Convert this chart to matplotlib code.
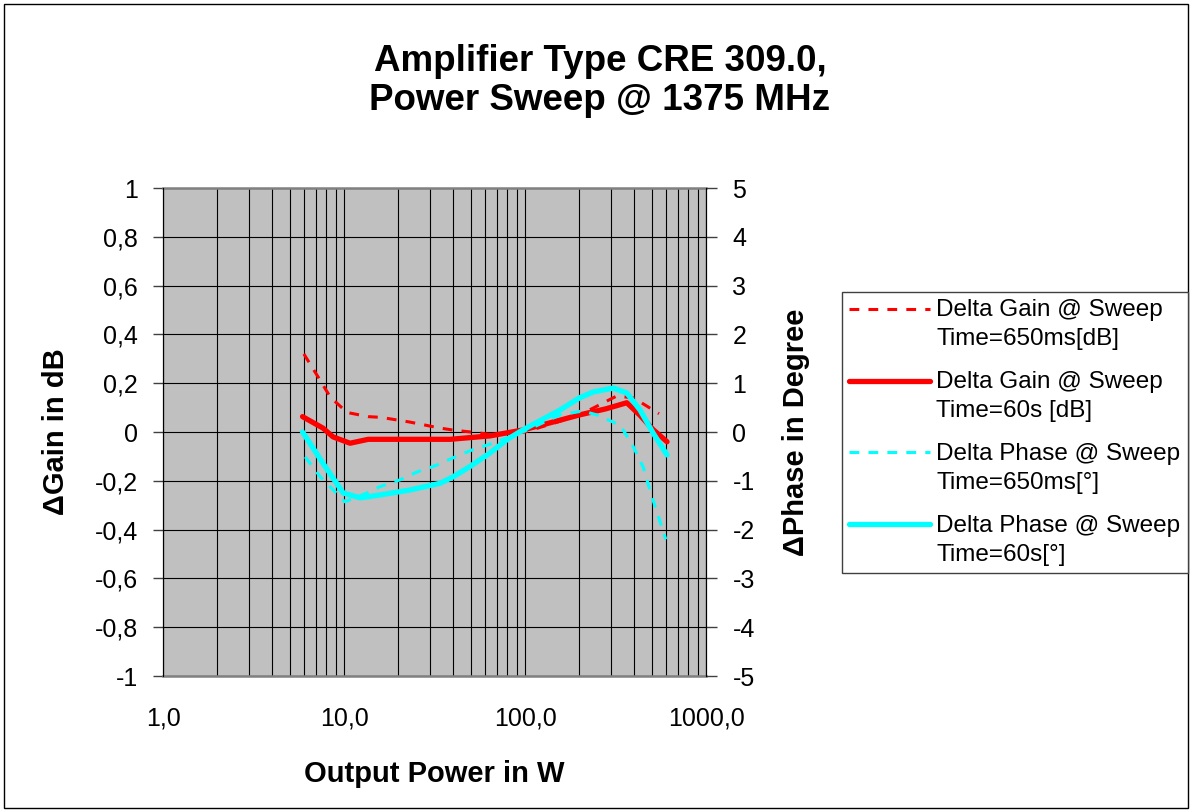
import matplotlib
matplotlib.use('Agg')
import matplotlib.pyplot as plt
from matplotlib.ticker import LogLocator, NullFormatter
from matplotlib.patches import Rectangle
from matplotlib.lines import Line2D
from matplotlib.legend_handler import HandlerLine2D

plt.rcParams['font.family'] = ['Liberation Sans', 'DejaVu Sans']

# ---- data ----
title = "Amplifier Type CRE 309.0,\nPower Sweep @ 1375 MHz"
x_label = "Output Power in W"
y_label_left = "ΔGain in dB"
y_label_right = "ΔPhase in Degree"

x_ticks = [1, 10, 100, 1000]
x_tick_labels = ["1,0", "10,0", "100,0", "1000,0"]
gain_ticks = [-1, -0.8, -0.6, -0.4, -0.2, 0, 0.2, 0.4, 0.6, 0.8, 1]
gain_tick_labels = ["-1", "-0,8", "-0,6", "-0,4", "-0,2", "0", "0,2", "0,4", "0,6", "0,8", "1"]
phase_ticks = [-5, -4, -3, -2, -1, 0, 1, 2, 3, 4, 5]
phase_tick_labels = ["-5", "-4", "-3", "-2", "-1", "0", "1", "2", "3", "4", "5"]

label_gain_650 = "Delta Gain @ Sweep\nTime=650ms[dB]"
label_gain_60 = "Delta Gain @ Sweep\nTime=60s [dB]"
label_phase_650 = "Delta Phase @ Sweep\nTime=650ms[°]"
label_phase_60 = "Delta Phase @ Sweep\nTime=60s[°]"

power_gain_650 = [6.0, 7.2, 8.4, 10.4, 13.6, 16, 23, 34, 40, 56, 64, 100, 150, 200, 238, 322, 400, 550]
gain_650 = [0.32, 0.225, 0.143, 0.08, 0.063, 0.06, 0.041, 0.016, 0.008, -0.004, -0.01, 0.0, 0.04, 0.07, 0.098, 0.148, 0.139, 0.075]

power_gain_60 = [5.9, 7.65, 8.7, 10.8, 13.6, 20, 38.6, 64, 97, 150, 200, 280, 365, 430, 510, 609]
gain_60 = [0.063, 0.016, -0.02, -0.046, -0.03, -0.03, -0.03, -0.016, 0.008, 0.045, 0.07, 0.095, 0.12, 0.07, 0.01, -0.04]

power_phase_650 = [6.1, 7.4, 9.3, 10.1, 13.4, 15.8, 20.4, 25.3, 32.5, 40, 50.8, 64, 100, 156, 208, 250, 335, 388, 450, 490, 535, 600]
phase_650 = [-0.51, -0.92, -1.29, -1.43, -1.25, -1.12, -0.98, -0.82, -0.68, -0.53, -0.37, -0.25, 0.02, 0.35, 0.43, 0.35, 0.14, -0.23, -0.72, -1.19, -1.64, -2.2]

power_phase_60 = [5.9, 7.65, 9.9, 12.3, 15.8, 23, 34, 40, 50, 64, 80, 97, 156, 200, 238, 307, 365, 432, 510, 609]
phase_60 = [0.0, -0.64, -1.25, -1.35, -1.29, -1.19, -1.05, -0.92, -0.7, -0.43, -0.15, 0.04, 0.45, 0.7, 0.82, 0.9, 0.8, 0.45, -0.02, -0.47]

RED = '#FF0000'
CYAN = '#00FFFF'

W, H = 1192, 811
fig = plt.figure(figsize=(W / 100, H / 100), dpi=100)
fig.patch.set_facecolor('white')

L, R, T, B = 163, 706, 188, 676
ax = fig.add_axes([L / W, 1 - B / H, (R - L) / W, (B - T) / H])
ax.set_facecolor('#C0C0C0')
ax.set_xscale('log')
ax.set_xlim(1, 1000)
ax.set_ylim(-1, 1)
ax.set_xticks(x_ticks)
ax.set_xticklabels(x_tick_labels)
ax.xaxis.set_minor_locator(LogLocator(base=10, subs=range(2, 10)))
ax.xaxis.set_minor_formatter(NullFormatter())
ax.set_yticks(gain_ticks)
ax.set_yticklabels(gain_tick_labels)
ax.tick_params(axis='x', which='both', length=0, pad=22, labelsize=18)
ax.tick_params(axis='y', which='major', length=7, width=1, direction='out', pad=11, labelsize=18, color='#404040')
ax.grid(which='both', axis='x', color='black', lw=0.8)
ax.grid(which='major', axis='y', color='black', lw=0.8)
ax.set_axisbelow(True)
for s in ['top', 'bottom']:
    ax.spines[s].set_color('#808080')
    ax.spines[s].set_linewidth(1.8)
ax.spines['left'].set_color('black')
ax.spines['right'].set_color('black')

ax.plot(power_gain_650, gain_650, color=RED, lw=2.2, dashes=(3.2, 3.0), zorder=3)
ax.plot(power_gain_60, gain_60, color=RED, lw=3.8, solid_joinstyle='round', solid_capstyle='round', zorder=4)

ax.set_xlabel(x_label, fontsize=21, fontweight='bold')
ax.xaxis.set_label_coords(0.5, (B - 760) / (B - T))
ax.set_ylabel(y_label_left, fontsize=21, fontweight='bold')
ax.yaxis.set_label_coords((70 - L) / (R - L), 0.5)

ax2 = ax.twinx()
ax2.set_ylim(-5, 5)
ax2.set_yticks(phase_ticks)
ax2.set_yticklabels(phase_tick_labels)
ax2.tick_params(axis='y', length=8, width=1, direction='out', pad=11, labelsize=18, color='#404040')
for s in ['top', 'bottom']:
    ax2.spines[s].set_visible(False)
ax2.spines['right'].set_color('black')
ax2.plot(power_phase_650, phase_650, color=CYAN, lw=2.2, dashes=(3.2, 3.0), zorder=3)
ax2.plot(power_phase_60, phase_60, color=CYAN, lw=3.8, solid_joinstyle='round', solid_capstyle='round', zorder=4)
ax2.set_ylabel(y_label_right, fontsize=21, fontweight='bold', rotation=90)
ax2.yaxis.set_label_coords((782 - L) / (R - L), 0.5)

fig.text(600 / W, 1 - 81 / H, title, ha='center', va='center', fontsize=26.5,
         fontweight='bold', linespacing=1.15)


class TopLineHandler(HandlerLine2D):
    def __init__(self, shift=11.5, **kw):
        super().__init__(**kw)
        self.shift = shift

    def create_artists(self, legend, orig_handle, xdescent, ydescent, width, height,
                       fontsize, trans):
        arts = super().create_artists(legend, orig_handle, xdescent, ydescent, width,
                                      height, fontsize, trans)
        for a in arts:
            if isinstance(a, Line2D):
                a.set_ydata([v + self.shift for v in a.get_ydata()])
        return arts


handles = [
    Line2D([], [], color=RED, lw=2.2, dashes=(3.2, 3.0)),
    Line2D([], [], color=RED, lw=3.8, solid_capstyle='round'),
    Line2D([], [], color=CYAN, lw=2.2, dashes=(3.2, 3.0)),
    Line2D([], [], color=CYAN, lw=3.8, solid_capstyle='round'),
]
labels = [label_gain_650, label_gain_60, label_phase_650, label_phase_60]
hmap = {h: TopLineHandler() for h in handles}
leg = fig.legend(handles, labels, loc='upper left', bbox_to_anchor=(842 / W, 1 - 292 / H),
                 frameon=True, fancybox=False, edgecolor='#404040', facecolor='white',
                 fontsize=17.5, handlelength=3.3, handletextpad=0.28, borderpad=0.3,
                 labelspacing=0.85, borderaxespad=0.0, framealpha=1, handler_map=hmap)
for t in leg.get_texts():
    t.set_linespacing(1.42)
leg.get_frame().set_linewidth(1.0)

fig.patches.append(Rectangle((4 / W, 3 / H), 1 - 8 / W, 1 - 7 / H, transform=fig.transFigure,
                             fill=False, ec='black', lw=1.0))

fig.savefig('out.png', dpi=100)
